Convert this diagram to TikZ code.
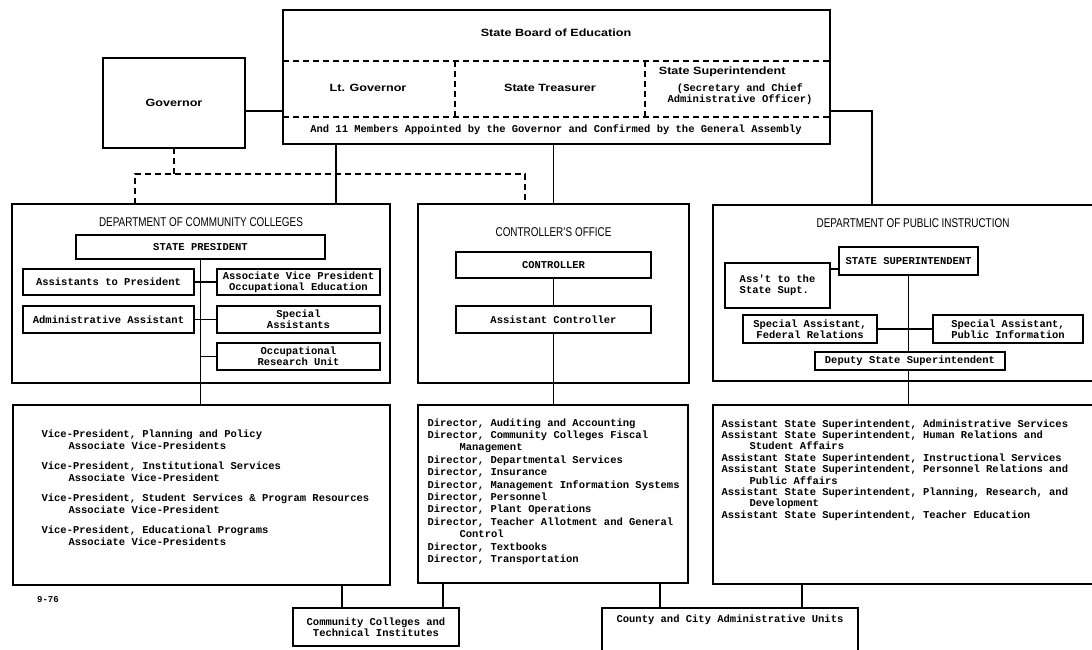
\documentclass[tikz,border=0pt]{standalone}
\usepackage{fontspec}
\setmainfont{Liberation Mono}
\newfontfamily\headfont[FakeStretch=1.2]{Liberation Sans}
\newfontfamily\titlefont[FakeStretch=0.78]{Liberation Sans}
\begin{document}
\begin{tikzpicture}[x=1pt,y=-1pt,line width=1.1pt,
  box/.style={draw,inner sep=0pt,outer sep=0pt},
  txt/.style={font=\bfseries\fontsize{10.5}{11.2}\selectfont},
  head/.style={font=\headfont\bfseries\fontsize{10.5}{12}\selectfont},
  title/.style={font=\titlefont\fontsize{12.7}{14}\selectfont},
  list/.style={anchor=north west,align=left,inner sep=0pt},
  dashline/.style={dash pattern=on 6pt off 4pt}]
\useasboundingbox (0,0) rectangle (1092,649);
\fill[white] (0,0) rectangle (1092,649);
\clip (0,0) rectangle (1092,649);
\node[box,head,minimum width=142pt,minimum height=90pt] (gov) at (174,103) {Governor};
\node[box,minimum width=547pt,minimum height=134pt] (board) at (556.5,77) {};
\node[head] (sbe) at (556,33) {State Board of Education};
\draw[dashline] (283,61) -- (830,61);
\draw[dashline] (283,117) -- (830,117);
\draw[dashline] (455,61) -- (455,117);
\draw[dashline] (645,61) -- (645,117);
\node[head] (ltgov) at (368,88) {Lt. Governor};
\node[head] (treas) at (550,88) {State Treasurer};
\node[head,anchor=west] (supt) at (655,72) {State Superintendent};
\node[txt,align=center] (secr) at (740,94) {(Secretary and Chief\\Administrative Officer)};
\node[txt] (members) at (556,130) {And 11 Members Appointed by the Governor and Confirmed by the General Assembly};
\node[box,minimum width=378pt,minimum height=179pt] (dcc) at (201,293.5) {};
\node[title] (dcctitle) at (201,222) {DEPARTMENT OF COMMUNITY COLLEGES};
\node[box,txt,minimum width=249pt,minimum height=24pt] (pres) at (200.5,247) {STATE PRESIDENT};
\node[box,txt,minimum width=171pt,minimum height=26pt] (asstp) at (108.5,282) {Assistants to President};
\node[box,txt,align=center,minimum width=163pt,minimum height=26pt] (avp) at (298.5,282) {Associate Vice President\\Occupational Education};
\node[box,txt,minimum width=171pt,minimum height=27pt] (admin) at (108.5,319.5) {Administrative Assistant};
\node[box,txt,align=center,minimum width=163pt,minimum height=27pt] (spec) at (298.5,319.5) {Special\\Assistants};
\node[box,txt,align=center,minimum width=163pt,minimum height=27pt] (ocres) at (298.5,356.5) {Occupational\\Research Unit};
\node[box,minimum width=271pt,minimum height=179pt] (ctrl) at (553.5,293.5) {};
\node[title] (ctrltitle) at (553.5,232) {CONTROLLER\textquotesingle S OFFICE};
\node[box,txt,minimum width=195pt,minimum height=26pt] (ctlr) at (553.5,265) {CONTROLLER};
\node[box,txt,minimum width=195pt,minimum height=27pt] (actlr) at (553.5,319.5) {Assistant Controller};
\node[box,minimum width=387pt,minimum height=176pt] (dpi) at (906.5,293) {};
\node[title] (dpititle) at (913,223) {DEPARTMENT OF PUBLIC INSTRUCTION};
\node[box,txt,minimum width=139pt,minimum height=28pt] (ssupt) at (908.5,261) {STATE SUPERINTENDENT};
\node[box,txt,align=left,minimum width=105pt,minimum height=45pt] (asst) at (777.5,285.5) {Ass\textquotesingle t to the\\State Supt.};
\node[box,txt,align=center,minimum width=134pt,minimum height=28pt] (fedrel) at (810,329) {Special Assistant,\\Federal Relations};
\node[box,txt,align=center,minimum width=150pt,minimum height=28pt] (pubinf) at (1008,329) {Special Assistant,\\Public Information};
\node[box,txt,minimum width=190pt,minimum height=18pt] (deputy) at (910,361) {Deputy State Superintendent};
\node[box,minimum width=377pt,minimum height=180pt] (dcclow) at (201.5,495) {};
\node[txt,list,font=\bfseries\fontsize{10.5}{12}\selectfont] (vplist) at (41,429) {Vice-President, Planning and Policy\\
\hspace*{27pt}Associate Vice-Presidents\\[8pt]
Vice-President, Institutional Services\\
\hspace*{27pt}Associate Vice-President\\[8pt]
Vice-President, Student Services \& Program Resources\\
\hspace*{27pt}Associate Vice-President\\[8pt]
Vice-President, Educational Programs\\
\hspace*{27pt}Associate Vice-Presidents};
\node[box,minimum width=270pt,minimum height=178pt] (ctrllow) at (553,494) {};
\node[txt,list,font=\bfseries\fontsize{10.5}{12.4}\selectfont] (dirlist) at (427,418) {Director, Auditing and Accounting\\
Director, Community Colleges Fiscal\\
\hspace*{32pt}Management\\
Director, Departmental Services\\
Director, Insurance\\
Director, Management Information Systems\\
Director, Personnel\\
Director, Plant Operations\\
Director, Teacher Allotment and General\\
\hspace*{32pt}Control\\
Director, Textbooks\\
Director, Transportation};
\node[box,minimum width=387pt,minimum height=179pt] (dpilow) at (906.5,494.5) {};
\node[txt,list,font=\bfseries\fontsize{10.5}{11.4}\selectfont] (asslist) at (721,419) {Assistant State Superintendent, Administrative Services\\
Assistant State Superintendent, Human Relations and\\
\hspace*{28pt}Student Affairs\\
Assistant State Superintendent, Instructional Services\\
Assistant State Superintendent, Personnel Relations and\\
\hspace*{28pt}Public Affairs\\
Assistant State Superintendent, Planning, Research, and\\
\hspace*{28pt}Development\\
Assistant State Superintendent, Teacher Education};
\node[box,txt,align=center,minimum width=166pt,minimum height=38pt] (cc) at (376,627) {Community Colleges and\\Technical Institutes};
\node[box,minimum width=256pt,minimum height=52pt] (county) at (730,634) {};
\node[txt] (countytxt) at (730,620) {County and City Administrative Units};
\node[txt,font=\bfseries\fontsize{9}{10}\selectfont] (date) at (48,600) {9-76};
\coordinate (dl) at (135,174);
\coordinate (dr) at (525,174);
\coordinate (bl) at (336,160);
\coordinate (bj) at (872,111);
\draw ([yshift=-8pt]gov.east) -- ([yshift=-8pt]gov.east -| board.west);
\draw[dashline] (gov.south) -- (gov.south |- dl);
\draw[dashline] (dl |- dcc.north) -- (dl) -- (dr) -- (dr |- ctrl.north);
\draw (bl |- board.south) -- (bl |- dcc.north);
\draw (ctrl.north |- board.south) -- (ctrl.north);
\draw (bj -| board.east) -- (bj) -- (bj |- dpi.north);
\draw (pres.south) -- (pres.south |- dcclow.north);
\draw (asstp.east) -- (avp.west);
\draw (admin.east) -- (spec.west);
\draw (pres.south |- ocres.west) -- (ocres.west);
\draw (ctlr) -- (actlr);
\draw (actlr.south) -- (actlr.south |- ctrllow.north);
\draw ([yshift=-8pt]ssupt.west) -- ([yshift=-8pt]ssupt.west -| asst.east);
\draw (ssupt.south) -- (ssupt.south |- deputy.north);
\draw (fedrel.east) -- (pubinf.west);
\draw (ssupt.south |- deputy.south) -- (ssupt.south |- dpilow.north);
\draw ([xshift=49pt]cc.north west) -- ([xshift=49pt]cc.north west |- dcclow.south);
\draw ([xshift=150pt]cc.north west) -- ([xshift=150pt]cc.north west |- ctrllow.south);
\draw ([xshift=58pt]county.north west) -- ([xshift=58pt]county.north west |- ctrllow.south);
\draw ([xshift=200pt]county.north west) -- ([xshift=200pt]county.north west |- dpilow.south);
\end{tikzpicture}
\end{document}
